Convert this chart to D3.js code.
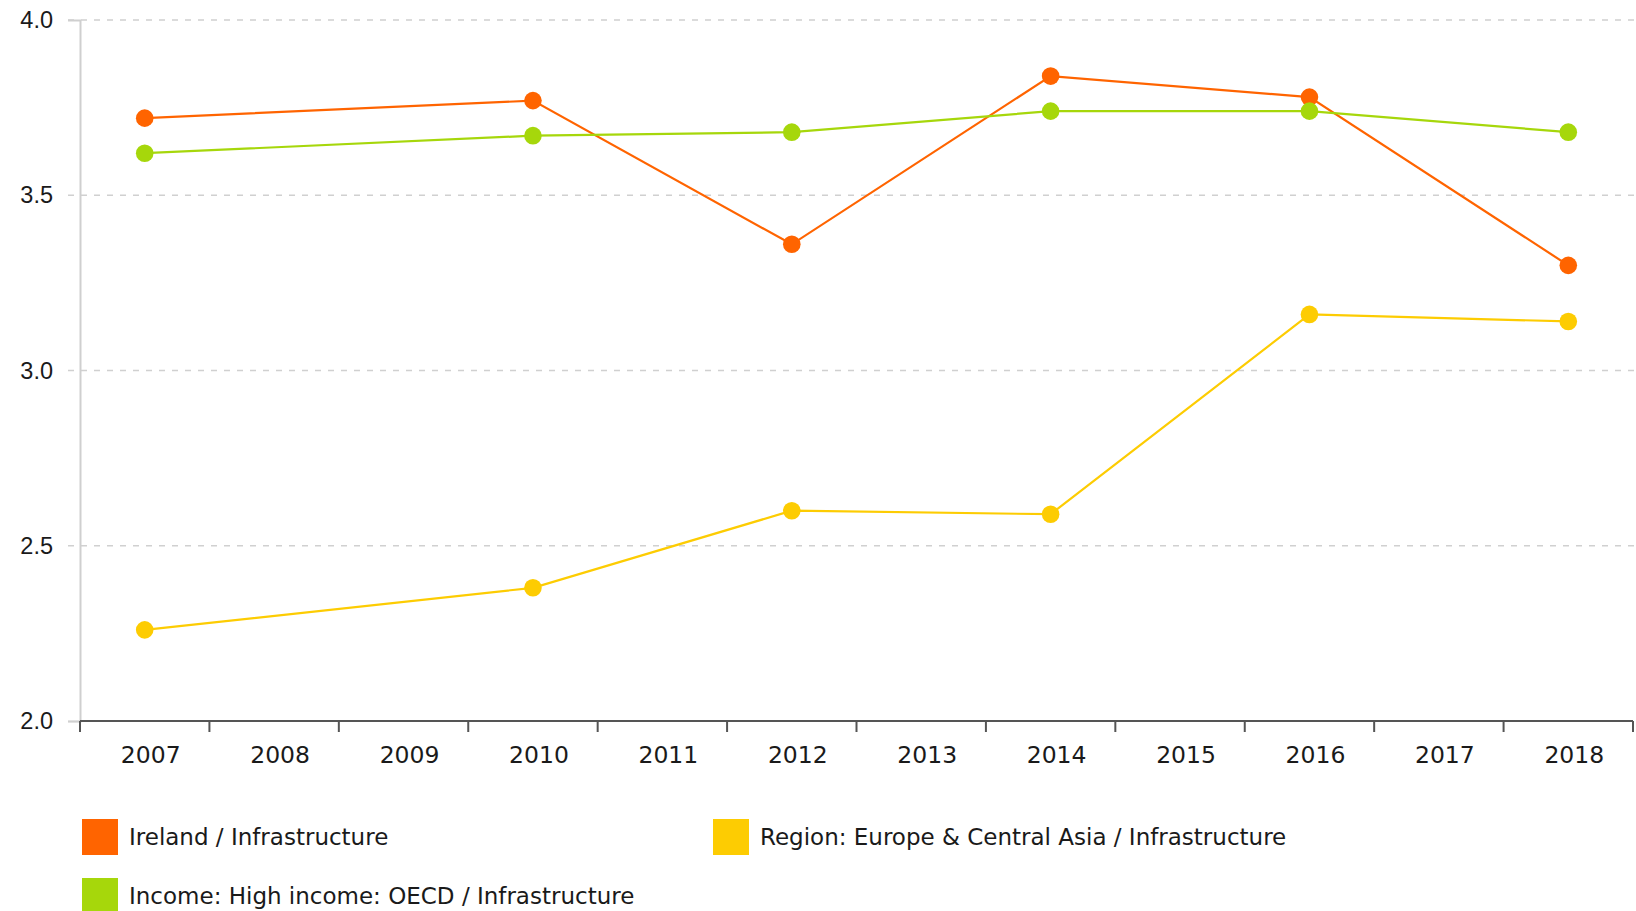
<!DOCTYPE html>
<html>
<head>
<meta charset="utf-8">
<script src="https://cdnjs.cloudflare.com/ajax/libs/d3/7.8.5/d3.min.js"></script>
<style>
  html, body { margin: 0; padding: 0; background: #fff; }
  svg { display: block; font-family: "DejaVu Sans", Verdana, sans-serif; }
  .axis text { fill: #1a1a1a; font-size: 23.5px; }
</style>
</head>
<body>
<div id="chart"></div>
<script>
// data
const years = ['2007', '2008', '2009', '2010', '2011', '2012', '2013', '2014', '2015', '2016', '2017', '2018'];
const yTicks = [2.0, 2.5, 3.0, 3.5, 4.0];

const irelandYears = ['2007', '2010', '2012', '2014', '2016', '2018'];
const irelandValues = [3.72, 3.77, 3.36, 3.84, 3.78, 3.30];

const regionYears = ['2007', '2010', '2012', '2014', '2016', '2018'];
const regionValues = [2.26, 2.38, 2.60, 2.59, 3.16, 3.14];

const incomeYears = ['2007', '2010', '2012', '2014', '2016', '2018'];
const incomeValues = [3.62, 3.67, 3.68, 3.74, 3.74, 3.68];

const seriesNames = [
  'Ireland / Infrastructure',
  'Region: Europe & Central Asia / Infrastructure',
  'Income: High income: OECD / Infrastructure'
];

const series = [
  { name: seriesNames[0], color: '#ff6400', years: irelandYears, values: irelandValues },
  { name: seriesNames[1], color: '#fdcc02', years: regionYears, values: regionValues },
  { name: seriesNames[2], color: '#a6d70b', years: incomeYears, values: incomeValues }
];

const width = 1636, height = 911;
const margin = { top: 20, right: 3, bottom: 190, left: 80 };

const svg = d3.select('#chart')
  .append('svg')
  .attr('width', width)
  .attr('height', height);

const x = d3.scaleBand().domain(years).range([margin.left, width - margin.right]);
const y = d3.scaleLinear().domain([2, 4]).range([height - margin.bottom, margin.top]);

// horizontal grid lines
svg.append('g')
  .attr('class', 'grid')
  .selectAll('line')
  .data(yTicks.filter(d => d > 2))
  .enter()
  .append('line')
  .attr('x1', margin.left - 12)
  .attr('x2', width)
  .attr('y1', d => y(d))
  .attr('y2', d => y(d))
  .attr('stroke', '#d0d0d0')
  .attr('stroke-width', 1.5)
  .attr('stroke-dasharray', '6,7');

// y axis
const yAxis = svg.append('g')
  .attr('class', 'axis axis-y')
  .attr('transform', `translate(${margin.left}, 0)`)
  .call(d3.axisLeft(y).tickValues(yTicks).tickFormat(d3.format('.1f')).tickSize(12).tickPadding(15));
yAxis.select('.domain').attr('stroke', '#cfcfcf').attr('stroke-width', 2);
yAxis.selectAll('.tick line').attr('stroke', '#d0d0d0').attr('stroke-width', 1.5)
  .attr('display', d => d === 2 ? null : 'none');

// x axis, ticks at band edges
const xAxisG = svg.append('g')
  .attr('class', 'axis axis-x')
  .attr('transform', `translate(0, ${y(2)})`);
xAxisG.append('line')
  .attr('x1', margin.left)
  .attr('x2', width - margin.right)
  .attr('stroke', '#555')
  .attr('stroke-width', 2);
const edges = years.map(d => x(d)).concat([x(years[years.length - 1]) + x.bandwidth()]);
xAxisG.selectAll('.edge')
  .data(edges)
  .enter()
  .append('line')
  .attr('class', 'edge')
  .attr('x1', d => d)
  .attr('x2', d => d)
  .attr('y1', 0)
  .attr('y2', 11)
  .attr('stroke', '#555')
  .attr('stroke-width', 2);
xAxisG.selectAll('text')
  .data(years)
  .enter()
  .append('text')
  .attr('x', d => x(d) + x.bandwidth() / 2 + 6)
  .attr('y', 34)
  .attr('dy', '0.35em')
  .attr('text-anchor', 'middle')
  .text(d => d);

// lines and markers
const line = d3.line()
  .x(d => x(d.year) + x.bandwidth() / 2)
  .y(d => y(d.value));

series.forEach(s => {
  const pts = s.years.map((yr, i) => ({ year: yr, value: s.values[i] }));
  const g = svg.append('g').attr('class', 'series');
  g.append('path')
    .datum(pts)
    .attr('fill', 'none')
    .attr('stroke', s.color)
    .attr('stroke-width', 2.2)
    .attr('d', line);
  g.selectAll('circle')
    .data(pts)
    .enter()
    .append('circle')
    .attr('cx', d => x(d.year) + x.bandwidth() / 2)
    .attr('cy', d => y(d.value))
    .attr('r', 8.8)
    .attr('fill', s.color);
});

// legend
const legendPos = [[82, 819], [713, 819], [82, 878]];
const legend = svg.append('g').attr('class', 'legend');
series.forEach((s, i) => {
  const [lx, ly] = legendPos[i];
  legend.append('rect')
    .attr('x', lx)
    .attr('y', ly)
    .attr('width', 36)
    .attr('height', 36)
    .attr('fill', s.color);
  legend.append('text')
    .attr('x', lx + 47)
    .attr('y', ly + 18)
    .attr('dy', '0.35em')
    .attr('font-size', 23)
    .attr('fill', '#1a1a1a')
    .text(s.name);
});
</script>
</body>
</html>
